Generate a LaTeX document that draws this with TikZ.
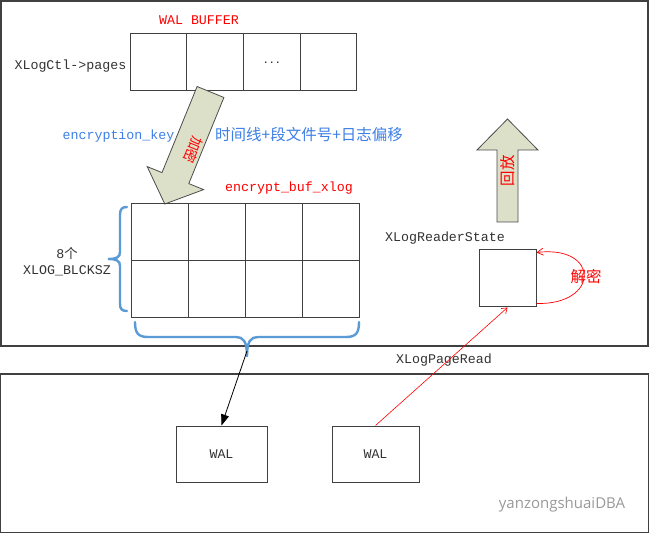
\documentclass[tikz,border=0pt]{standalone}
\usepackage{fontspec}
\setmainfont{Liberation Mono}
\newfontfamily\cjk{Noto Sans CJK SC}
\newfontfamily\wmfont{Open Sans}
\usetikzlibrary{arrows.meta}
\definecolor{txtblue}{HTML}{3D7FE6}
\definecolor{brblue}{HTML}{5B9BD5}
\definecolor{arrfill}{HTML}{DCE0C8}
\definecolor{framec}{HTML}{404040}
\definecolor{txtgray}{HTML}{333333}
\begin{document}
\begin{tikzpicture}[x=1pt,y=-1pt,
  mono/.style={font=\fontsize{13.3}{16}\selectfont, text=txtgray, inner sep=0pt},
  cjkt/.style={font=\fontsize{15.5}{17}\selectfont\cjk, inner sep=0pt},
  cell/.style={draw=black!75, line width=1pt, minimum width=56.75pt, minimum height=57pt, inner sep=0pt},
  gcell/.style={draw=black!75, line width=1pt, minimum width=57pt, minimum height=57pt, inner sep=0pt},
  frame/.style={draw=framec, line width=1.2pt},
  brace/.style={draw=brblue, line width=2.4pt, line cap=round},
  blockarrow/.style={draw=black!70, fill=arrfill, line width=0.8pt, line join=miter}]
\useasboundingbox (0,0) rectangle (650,534);
\fill[white] (0,0) rectangle (650,534);
% frames
\draw[frame] (1,1) rectangle (648,346);
\draw[frame] (0.6,374) rectangle (648.5,532.5);
% WAL buffer
\node[mono, text=red] (walbuf) at (199,20) {WAL BUFFER};
\node[cell] (b1) at (158.4,62.5) {};
\node[cell] (b2) at (215.1,62.5) {};
\node[cell] (b3) at (271.9,62.5) {...};
\node[cell] (b4) at (328.6,62.5) {};
\node[mono, anchor=east] (pages) at (126.5,66) {XLogCtl->pages};
% diagonal block arrow
\draw[blockarrow] (197.1,86.5) -- (162.0,172.6) -- (147.2,166.6) -- (164.8,204) -- (203.6,189.6) -- (188.8,183.6) -- (223.9,97.5) -- cycle;
\node[cjkt, font=\fontsize{14}{16}\selectfont\cjk, text=red, rotate=-112] (jiami) at (193,150) {加密};
\node[mono, text=txtblue] (key) at (118.5,136) {encryption\_key};
\node[cjkt, text=txtblue] (keydesc) at (309,135) {时间线+段文件号+日志偏移};
\node[mono, text=red] (ebx) at (289,188) {encrypt\_buf\_xlog};
% grid
\foreach \c [count=\i] in {159.5,216.5,273.5,330.5}{
  \node[gcell] (g1\i) at (\c,232.5) {};
  \node[gcell] (g2\i) at (\c,289.5) {};
}
% left brace
\draw[brace] (127,207) .. controls (122,207) and (120,209) .. (120,215) -- (120,252) .. controls (120,257) and (117,259) .. (108,259)
  .. controls (117,259) and (120,261) .. (120,266) -- (120,304) .. controls (120,309) and (122,311) .. (127,311);
\node[mono, align=center] (blck) at (67,262) {8{\cjk 个}\\XLOG\_BLCKSZ};
% bottom brace
\draw[brace] (135,322) .. controls (135,333) and (138,337) .. (148,337) -- (236,337) .. controls (243,337) and (247,341) .. (247,356);
\draw[brace] (359,322) .. controls (359,333) and (356,337) .. (346,337) -- (258,337) .. controls (251,337) and (247,341) .. (247,356);
\coordinate (bt) at (247,351);
% up block arrow
\draw[blockarrow] (497,222) -- (497,150) -- (477,150) -- (507.5,119) -- (538,150) -- (518,150) -- (518,222) -- cycle;
\node[cjkt, text=red, rotate=90] (huifang) at (507.5,171) {回放};
% reader state
\node[mono] (rslabel) at (445,238) {XLogReaderState};
\node[gcell] (rs) at (507.5,278.5) {};
\draw[red, line width=0.7pt, -{Straight Barb[length=6pt,width=7pt]}] (rs.south east) ++(0,-4) .. controls (600,305) and (600,245) .. ([yshift=-3pt]rs.north east);
\node[cjkt, text=red] (jiemi) at (586,277) {解密};
% bottom WAL files
\node[draw=black!75, line width=1pt, minimum width=91pt, minimum height=56pt, mono] (wal1) at (221.5,454) {WAL};
\node[draw=black!75, line width=1pt, minimum width=87pt, minimum height=56pt, mono] (wal2) at (375.5,454) {WAL};
\node[mono] (pr) at (444,360) {XLogPageRead};
\draw[black, line width=0.8pt, -{Triangle[length=11pt,width=8pt]}] (bt) -- (wal1.north);
\draw[red, line width=0.6pt, -{Straight Barb[length=5pt,width=7pt]}] (wal2.north) -- (rs.south);
% watermark
\node[font=\fontsize{15}{17}\selectfont\wmfont, text=black!40, inner sep=0pt] (wm) at (562,505) {yanzongshuaiDBA};
\end{tikzpicture}
\end{document}
